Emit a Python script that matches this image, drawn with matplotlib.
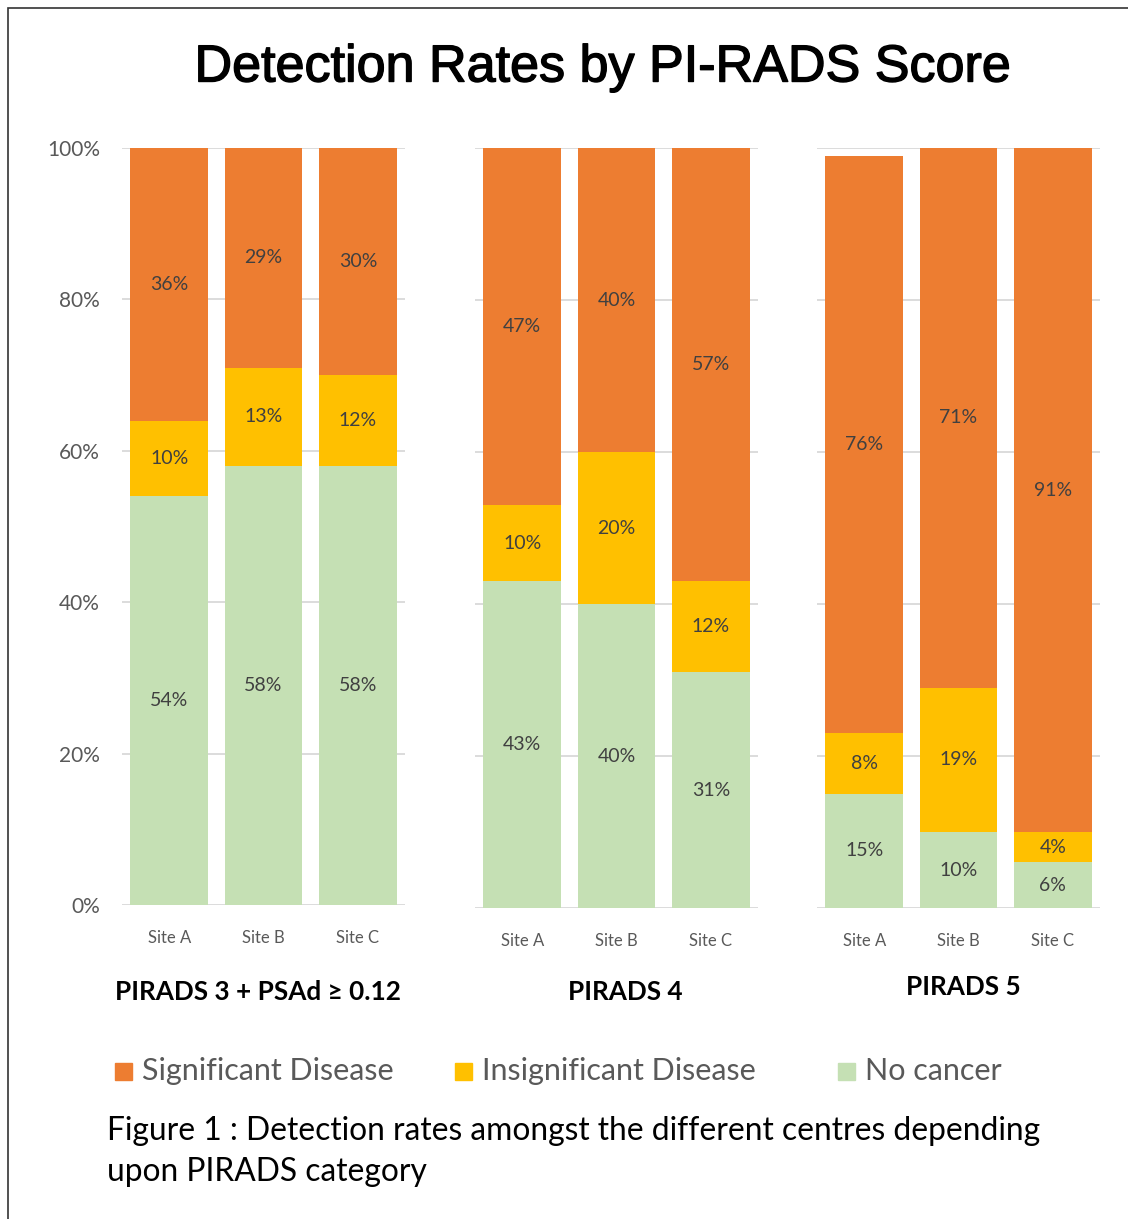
import matplotlib
matplotlib.use('Agg')
import matplotlib.pyplot as plt
import matplotlib.patheffects as pe
from matplotlib.patches import Rectangle

plt.rcParams['font.family'] = ['Lato', 'DejaVu Sans']

# data
sites = ['Site A', 'Site B', 'Site C']
groups = ['PIRADS 3 + PSAd ≥ 0.12', 'PIRADS 4', 'PIRADS 5']
no_cancer = [[54, 58, 58], [43, 40, 31], [15, 10, 6]]
insignificant = [[10, 13, 12], [10, 20, 12], [8, 19, 4]]
significant = [[36, 29, 30], [47, 40, 57], [76, 71, 91]]

c_sig = '#ED7D31'
c_ins = '#FFC000'
c_no = '#C5E0B4'
grid_c = '#D9D9D9'
txt_c = '#404040'
tick_c = '#595959'

W, H = 1128, 1219
fig = plt.figure(figsize=(W / 100, H / 100), dpi=100)

def px_axes(x0, x1, y0, y1):
    # pixel box -> figure fraction (y measured from top)
    return fig.add_axes([x0 / W, 1 - y0 / H, (x1 - x0) / W, (y0 - y1) / H])

# border round the whole figure
fig.patches.append(Rectangle((8 / W, -0.01), 1.02, 1 - 8 / H + 0.01,
                             transform=fig.transFigure, fill=False,
                             ec='#333333', lw=1.2))

fig.text(603 / W, 1 - 68 / H, 'Detection Rates by PI-RADS Score',
         ha='center', va='center', fontsize=37.5,
         family=['Liberation Sans', 'DejaVu Sans'], color='black',
         path_effects=[pe.withStroke(linewidth=1.0, foreground='black')])

boxes = [(122, 405, 905, 148), (475, 758, 908, 148), (817, 1100, 908, 148)]
title_x = [258, 625, 963]
title_y = [992, 992, 987]

for g, (x0, x1, y0, y1) in enumerate(boxes):
    ax = px_axes(x0, x1, y0, y1)
    x = range(len(sites))
    nc = no_cancer[g]
    ins = insignificant[g]
    sig = significant[g]
    bottom2 = [a + b for a, b in zip(nc, ins)]
    for yv in range(0, 101, 20):
        ax.axhline(yv, color=grid_c, lw=1.3, zorder=0)
    b1 = ax.bar(x, nc, width=0.82, color=c_no, zorder=2)
    b2 = ax.bar(x, ins, width=0.82, bottom=nc, color=c_ins, zorder=2)
    b3 = ax.bar(x, sig, width=0.82, bottom=bottom2, color=c_sig, zorder=2)
    for cont in (b1, b2, b3):
        ax.bar_label(cont, labels=[f'{v.get_height():.0f}%' for v in cont],
                     label_type='center', color=txt_c, fontsize=14)
    ax.set_xlim(-0.5, 2.5)
    ax.set_ylim(0, 100)
    for s in ax.spines.values():
        s.set_visible(False)
    ax.set_xticks(list(x))
    ax.set_xticklabels(sites, fontsize=12, color=tick_c)
    ax.tick_params(axis='x', length=0, pad=18)
    if g == 0:
        ax.set_yticks(range(0, 101, 20))
        ax.set_yticklabels([f'{v}%' for v in range(0, 101, 20)],
                           fontsize=15, color=tick_c)
        ax.tick_params(axis='y', length=0, pad=16)
    else:
        ax.set_yticks([])
    fig.text(title_x[g] / W, 1 - title_y[g] / H, groups[g], ha='center',
             va='center', fontsize=18.8, fontweight='bold', color='black')

# legend drawn by hand to keep Excel-like spacing
legend_items = [('Significant Disease', c_sig, 115),
                ('Insignificant Disease', c_ins, 455),
                ('No cancer', c_no, 838)]
for label, col, lx in legend_items:
    fig.patches.append(Rectangle((lx / W, 1 - 1080 / H), 17 / W, 17 / H,
                                 transform=fig.transFigure, color=col))
    fig.text((lx + 27) / W, 1 - 1071 / H, label, ha='left', va='center',
             fontsize=22, color=tick_c)

fig.text(107 / W, 1 - 1131 / H,
         'Figure 1 : Detection rates amongst the different centres depending',
         ha='left', va='center', fontsize=22.9, color='black')
fig.text(107 / W, 1 - 1172 / H, 'upon PIRADS category',
         ha='left', va='center', fontsize=22.9, color='black')

fig.savefig('out.png', dpi=100)
